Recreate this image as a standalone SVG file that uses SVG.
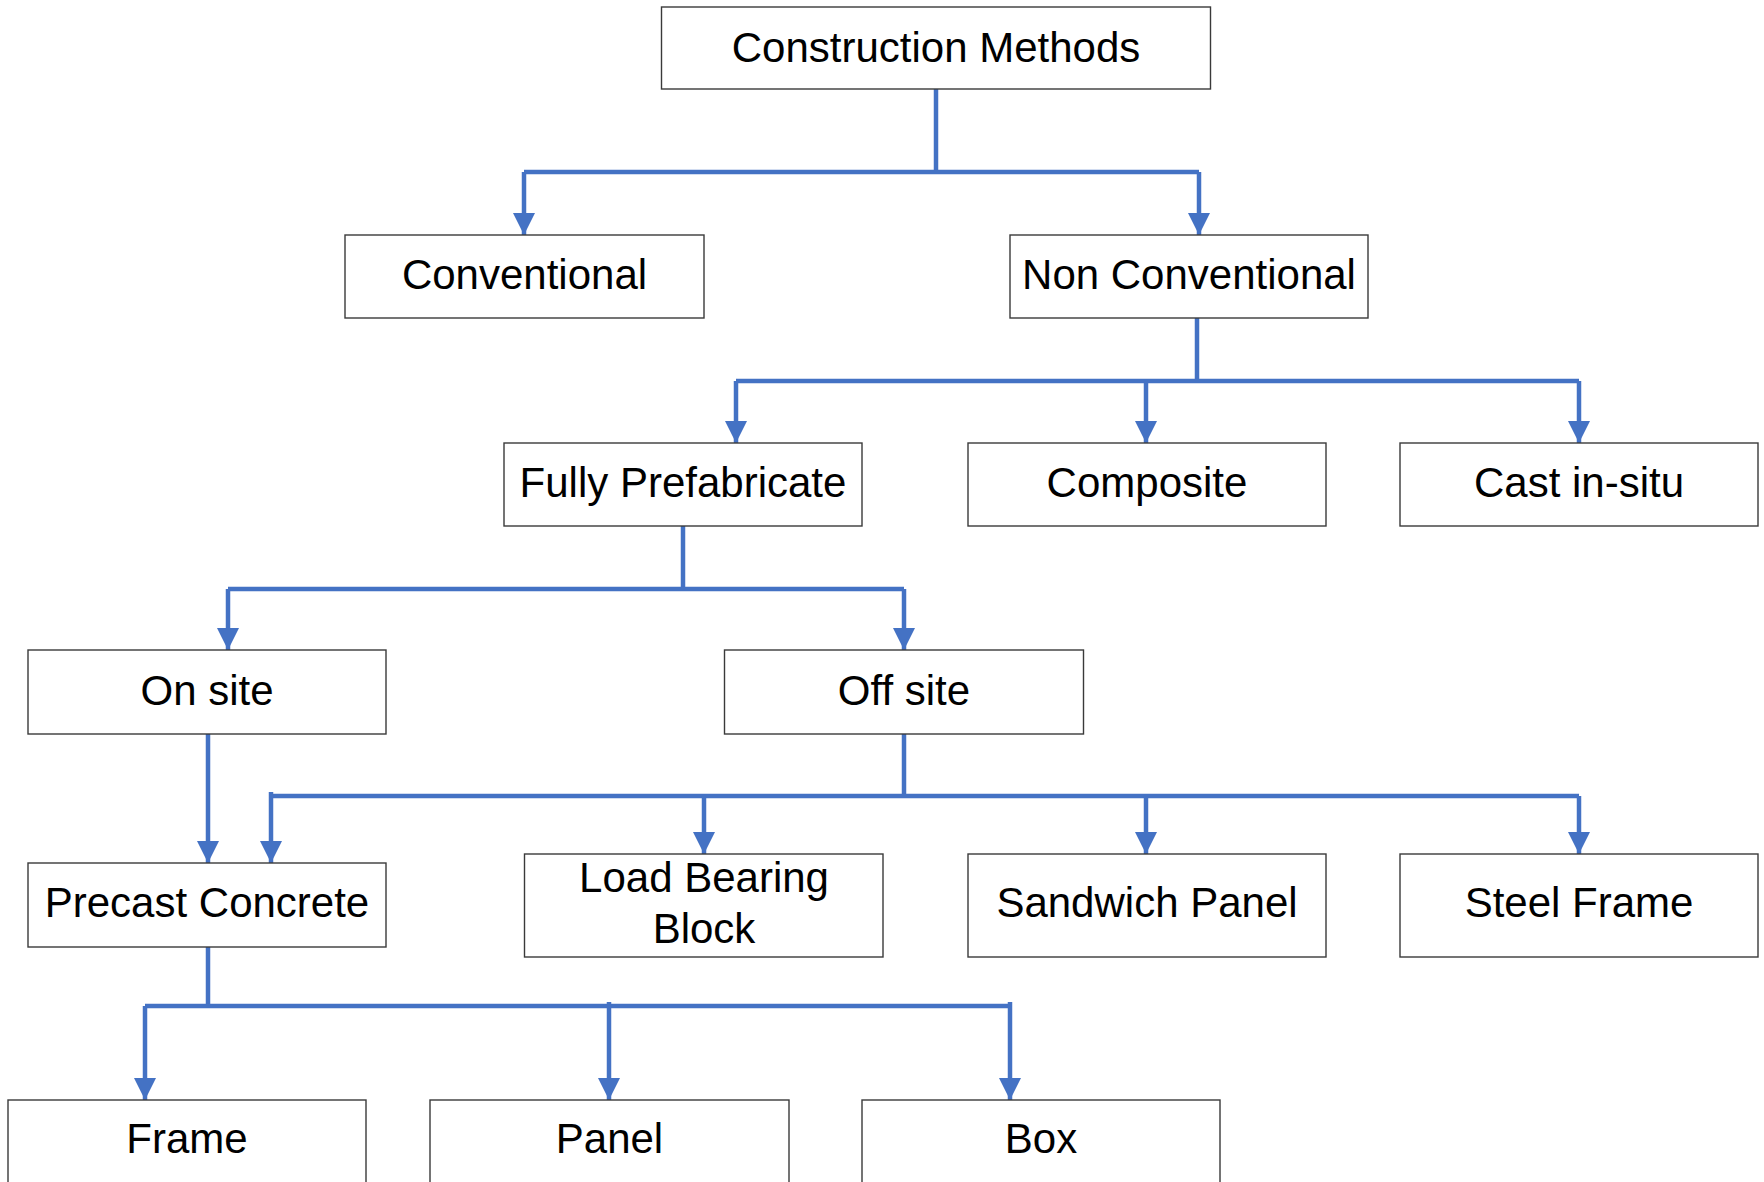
<svg xmlns="http://www.w3.org/2000/svg" width="1764" height="1182" viewBox="0 0 1764 1182">
<style>
.box{fill:#fff;stroke:#3a3a3a;stroke-width:1.4}
.lbl{font-family:"Liberation Sans",Arial,sans-serif;font-size:42px;fill:#000;text-anchor:middle}
.c{fill:none;stroke:#4472C4;stroke-width:4.5}
.a{marker-end:url(#ah)}
</style>
<defs>
<marker id="ah" markerUnits="userSpaceOnUse" markerWidth="22" markerHeight="22" viewBox="0 0 21 21" refX="21" refY="10.5" orient="auto">
<path d="M0,0 L21,10.5 L0,21 z" fill="#4472C4"/>
</marker>
</defs>
<rect width="1764" height="1182" fill="#fff"/>
<g id="connectors">
<path class="c" d="M936 89 V172"/>
<path class="c" d="M524 172 H1199"/>
<path class="c a" d="M524 172 V235"/>
<path class="c a" d="M1199 172 V235"/>
<path class="c" d="M1197 318 V381"/>
<path class="c" d="M736 381 H1579"/>
<path class="c a" d="M736 381 V443"/>
<path class="c a" d="M1146 381 V443"/>
<path class="c a" d="M1579 381 V443"/>
<path class="c" d="M683 526 V589"/>
<path class="c" d="M228 589 H904"/>
<path class="c a" d="M228 589 V650"/>
<path class="c a" d="M904 589 V650"/>
<path class="c a" d="M208 734 V863"/>
<path class="c" d="M904 734 V796"/>
<path class="c" d="M271 796 H1579"/>
<path class="c a" d="M271 792 V863"/>
<path class="c a" d="M704 796 V854"/>
<path class="c a" d="M1146 796 V854"/>
<path class="c a" d="M1579 796 V854"/>
<path class="c" d="M208 947 V1006"/>
<path class="c" d="M145 1006 H1010"/>
<path class="c a" d="M145 1006 V1100"/>
<path class="c a" d="M609 1002 V1100"/>
<path class="c a" d="M1010 1002 V1100"/>
</g>
<g id="construction-methods"><rect class="box" x="661.5" y="7" width="549" height="82"/><text class="lbl" x="936" y="62">Construction Methods</text></g>
<g id="conventional"><rect class="box" x="345" y="235" width="359" height="83"/><text class="lbl" x="524.5" y="289">Conventional</text></g>
<g id="non-conventional"><rect class="box" x="1010" y="235" width="358" height="83"/><text class="lbl" x="1189" y="289">Non Conventional</text></g>
<g id="fully-prefabricate"><rect class="box" x="504" y="443" width="358" height="83"/><text class="lbl" x="683" y="497">Fully Prefabricate</text></g>
<g id="composite"><rect class="box" x="968" y="443" width="358" height="83"/><text class="lbl" x="1147" y="497">Composite</text></g>
<g id="cast-in-situ"><rect class="box" x="1400" y="443" width="358" height="83"/><text class="lbl" x="1579" y="497">Cast in-situ</text></g>
<g id="on-site"><rect class="box" x="28" y="650" width="358" height="84"/><text class="lbl" x="207" y="705">On site</text></g>
<g id="off-site"><rect class="box" x="724.5" y="650" width="359" height="84"/><text class="lbl" x="904" y="705">Off site</text></g>
<g id="precast-concrete"><rect class="box" x="28" y="863" width="358" height="84"/><text class="lbl" x="207" y="917">Precast Concrete</text></g>
<g id="load-bearing-block"><rect class="box" x="524.5" y="854" width="358.5" height="103"/><text class="lbl" x="704" y="892">Load Bearing</text><text class="lbl" x="704" y="943">Block</text></g>
<g id="sandwich-panel"><rect class="box" x="968" y="854" width="358" height="103"/><text class="lbl" x="1147" y="917">Sandwich Panel</text></g>
<g id="steel-frame"><rect class="box" x="1400" y="854" width="358" height="103"/><text class="lbl" x="1579" y="917">Steel Frame</text></g>
<g id="frame"><rect class="box" x="8" y="1100" width="358" height="100"/><text class="lbl" x="187" y="1153">Frame</text></g>
<g id="panel"><rect class="box" x="430" y="1100" width="359" height="100"/><text class="lbl" x="609.5" y="1153">Panel</text></g>
<g id="box"><rect class="box" x="862" y="1100" width="358" height="100"/><text class="lbl" x="1041" y="1153">Box</text></g>
</svg>
